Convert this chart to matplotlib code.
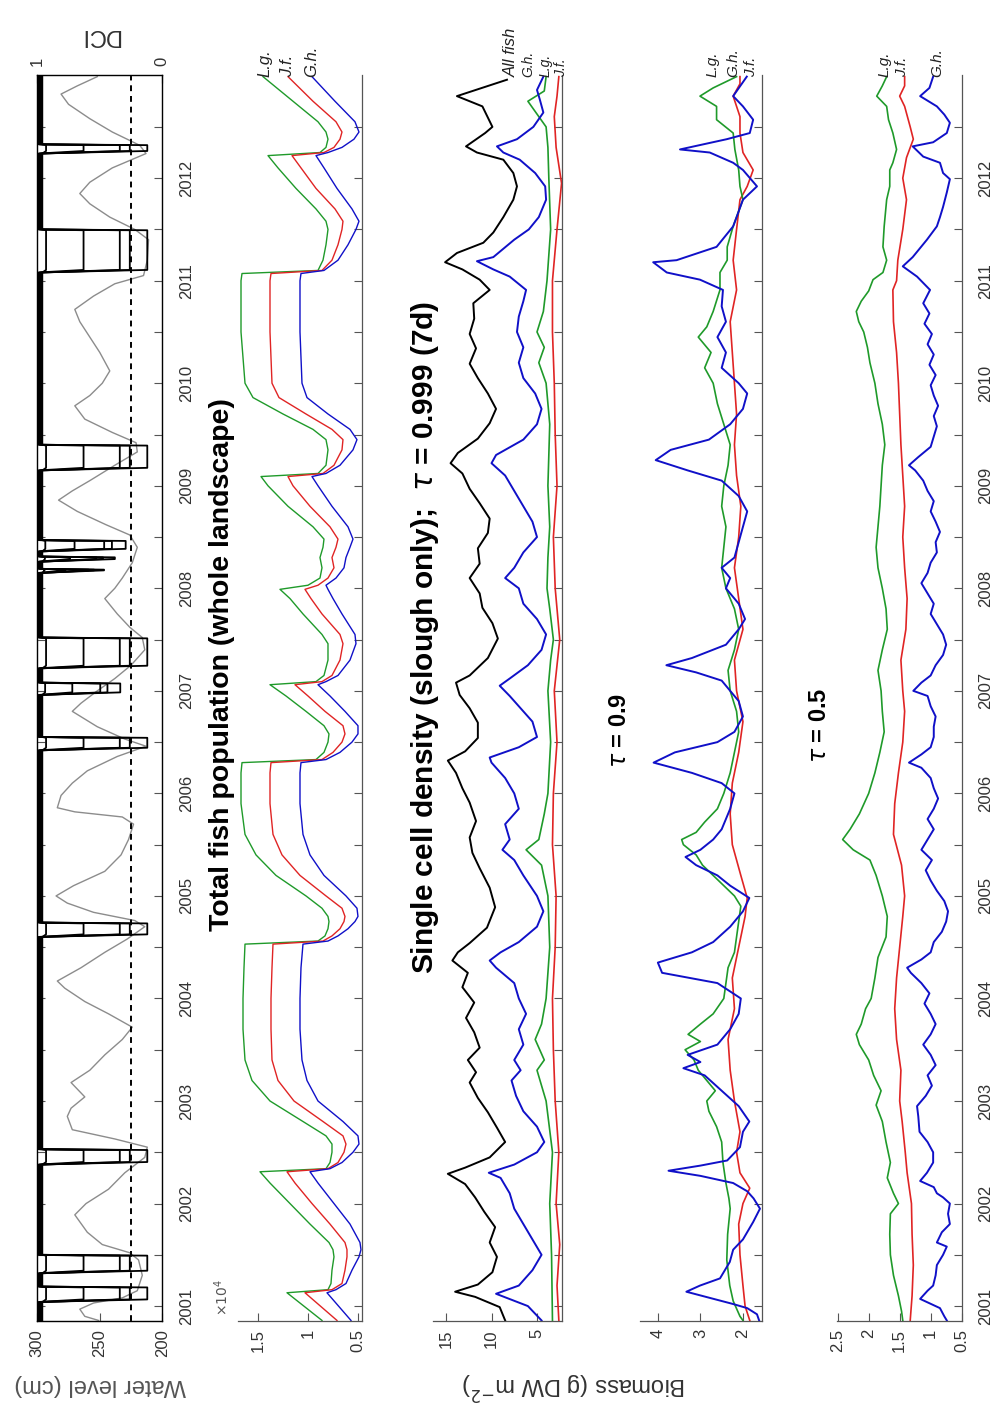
import numpy as np
import matplotlib
matplotlib.use("Agg")
import matplotlib.pyplot as plt

plt.rcParams['font.family'] = ['Liberation Sans', 'DejaVu Sans']
plt.rcParams['mathtext.fontset'] = 'dejavusans'

# ---------------- water level (cm), gauge series
wl = [(2000.86, 251), (2000.90, 262), (2000.97, 266), (2001.03, 255), (2001.08, 232),
      (2001.15, 220), (2001.30, 216), (2001.45, 219), (2001.52, 226), (2001.60, 248),
      (2001.72, 260), (2001.89, 270), (2002.00, 261), (2002.14, 243), (2002.30, 230),
      (2002.45, 214), (2002.55, 212), (2002.63, 238), (2002.72, 272), (2002.85, 276),
      (2002.93, 273), (2003.04, 262), (2003.18, 273), (2003.30, 258), (2003.45, 246),
      (2003.60, 232), (2003.72, 224), (2003.85, 243), (2003.97, 262), (2004.10, 278),
      (2004.17, 284), (2004.30, 265), (2004.45, 246), (2004.58, 228), (2004.70, 214),
      (2004.76, 222), (2004.84, 255), (2004.93, 276), (2005.00, 285), (2005.10, 271),
      (2005.24, 246), (2005.40, 233), (2005.55, 227), (2005.70, 223), (2005.77, 232),
      (2005.82, 270), (2005.86, 284), (2005.98, 281), (2006.10, 272), (2006.22, 260),
      (2006.36, 236), (2006.46, 213), (2006.53, 230), (2006.65, 252), (2006.80, 272),
      (2006.88, 265), (2007.00, 252), (2007.12, 238), (2007.25, 225), (2007.40, 214),
      (2007.52, 216), (2007.62, 226), (2007.75, 236), (2007.90, 246), (2008.00, 238),
      (2008.10, 232), (2008.25, 224), (2008.40, 220), (2008.52, 226), (2008.62, 245),
      (2008.75, 268), (2008.86, 283), (2008.95, 272), (2009.05, 258), (2009.20, 238),
      (2009.33, 220), (2009.42, 221), (2009.52, 240), (2009.65, 262), (2009.78, 270),
      (2009.88, 258), (2010.00, 248), (2010.12, 242), (2010.30, 250), (2010.45, 258),
      (2010.60, 266), (2010.72, 270), (2010.85, 255), (2010.97, 238), (2011.05, 215),
      (2011.20, 212), (2011.40, 211), (2011.50, 222), (2011.62, 242), (2011.75, 258),
      (2011.85, 266), (2011.96, 258), (2012.10, 240), (2012.24, 213), (2012.32, 218),
      (2012.45, 240), (2012.58, 258), (2012.72, 275), (2012.82, 281), (2012.90, 268),
      (2012.99, 252)]
wl_ref = 225

# DCI dry-down events: start, end, relative depth
dry_start = [2001.04, 2001.32, 2002.38, 2004.60, 2006.42, 2006.96, 2007.22, 2008.15,
             2008.26, 2008.36, 2009.15, 2011.08, 2012.24]
dry_end = [2001.19, 2001.50, 2002.53, 2004.74, 2006.55, 2007.08, 2007.52, 2008.19,
           2008.31, 2008.47, 2009.40, 2011.50, 2012.33]
dry_depth = [1.0, 1.0, 1.0, 1.0, 1.0, 0.75, 1.0, 0.6, 0.7, 0.8, 1.0, 1.0, 1.0]
dci_top = [0.985, 0.975, 0.965, 0.99, 0.96]
dci_floor = [0.12, 0.26, 0.34, 0.63, 0.93]

# ---------------- total fish population (x 1e4)
pop_t = [2000.86, 2001.13, 2001.16, 2001.22, 2001.35, 2001.48, 2001.55, 2001.62, 2001.80, 2002.00,
         2002.20, 2002.31, 2002.34, 2002.40, 2002.50, 2002.58, 2002.66, 2002.80, 2003.00, 2003.20,
         2003.40, 2003.70, 2004.00, 2004.30, 2004.53, 2004.56, 2004.61, 2004.68, 2004.75, 2004.80,
         2004.88, 2005.00, 2005.20, 2005.40, 2005.60, 2005.90, 2006.20, 2006.30, 2006.33, 2006.40,
         2006.50, 2006.58, 2006.66, 2006.80, 2006.95, 2007.06, 2007.09, 2007.15, 2007.30, 2007.46,
         2007.55, 2007.75, 2007.90, 2007.99, 2008.03, 2008.10, 2008.20, 2008.30, 2008.40, 2008.48,
         2008.60, 2008.80, 2009.00, 2009.09, 2009.12, 2009.20, 2009.35, 2009.45, 2009.55, 2009.70,
         2009.86, 2010.00, 2010.50, 2011.00, 2011.07, 2011.10, 2011.20, 2011.35, 2011.50, 2011.58,
         2011.70, 2011.90, 2012.10, 2012.22, 2012.25, 2012.30, 2012.38, 2012.45, 2012.55, 2012.75,
         2012.99]
pop_lg = [0.86, 1.21, 0.80, 0.77, 0.76, 0.74, 0.75, 0.79, 0.98, 1.18,
          1.38, 1.48, 0.82, 0.78, 0.76, 0.76, 0.82, 1.05, 1.38, 1.56,
          1.63, 1.65, 1.65, 1.64, 1.63, 0.90, 0.83, 0.80, 0.79, 0.80,
          0.86, 1.02, 1.32, 1.52, 1.63, 1.67, 1.67, 1.66, 0.92, 0.84,
          0.80, 0.79, 0.84, 1.02, 1.22, 1.38, 0.92, 0.84, 0.80, 0.80,
          0.86, 1.05, 1.18, 1.28, 1.00, 0.88, 0.86, 0.88, 0.85, 0.84,
          0.95, 1.20, 1.40, 1.47, 0.90, 0.82, 0.80, 0.82, 0.95, 1.25,
          1.55, 1.63, 1.67, 1.67, 1.66, 0.90, 0.85, 0.82, 0.80, 0.82,
          0.92, 1.12, 1.30, 1.40, 0.88, 0.82, 0.80, 0.82, 0.90, 1.15,
          1.45]
pop_jf = [0.71, 1.03, 0.76, 0.66, 0.63, 0.61, 0.61, 0.63, 0.78, 0.96,
          1.13, 1.21, 0.80, 0.70, 0.64, 0.62, 0.65, 0.85, 1.14, 1.30,
          1.36, 1.37, 1.37, 1.36, 1.35, 0.85, 0.76, 0.68, 0.64, 0.63,
          0.66, 0.82, 1.08, 1.26, 1.35, 1.38, 1.38, 1.37, 0.86, 0.75,
          0.66, 0.63, 0.65, 0.83, 1.00, 1.13, 0.86, 0.76, 0.68, 0.65,
          0.68, 0.86, 0.97, 1.03, 0.90, 0.80, 0.74, 0.76, 0.72, 0.70,
          0.78, 0.98, 1.15, 1.20, 0.85, 0.74, 0.66, 0.65, 0.76, 1.02,
          1.29, 1.36, 1.38, 1.38, 1.37, 0.86, 0.76, 0.70, 0.66, 0.65,
          0.73, 0.92, 1.07, 1.16, 0.84, 0.74, 0.68, 0.66, 0.72, 0.95,
          1.20]
pop_gh = [0.57, 0.81, 0.72, 0.62, 0.56, 0.49, 0.47, 0.48, 0.58, 0.74,
          0.90, 0.98, 0.78, 0.66, 0.55, 0.49, 0.50, 0.65, 0.90, 1.01,
          1.06, 1.08, 1.08, 1.07, 1.05, 0.80, 0.70, 0.60, 0.53, 0.50,
          0.51, 0.62, 0.84, 0.98, 1.05, 1.08, 1.08, 1.07, 0.82, 0.68,
          0.56, 0.50, 0.50, 0.63, 0.78, 0.90, 0.82, 0.70, 0.58, 0.52,
          0.53, 0.66, 0.75, 0.80, 0.82, 0.72, 0.64, 0.62, 0.58, 0.55,
          0.60, 0.76, 0.90, 0.96, 0.82, 0.68, 0.55, 0.51, 0.58, 0.80,
          1.01, 1.06, 1.08, 1.08, 1.07, 0.84, 0.70, 0.60, 0.52, 0.49,
          0.56, 0.71, 0.84, 0.92, 0.80, 0.66, 0.54, 0.49, 0.53, 0.73,
          0.96]

# ---------------- single cell density, slough, tau = 0.999 (7d)
sc_all = [(2000.86, 8.5), (2000.99, 9.1), (2001.09, 11.8), (2001.14, 14.0), (2001.21, 11.5),
          (2001.33, 9.9), (2001.48, 9.4), (2001.62, 10.2), (2001.77, 9.6), (2001.92, 10.8),
          (2002.06, 11.8), (2002.19, 12.9), (2002.29, 14.8), (2002.35, 12.9), (2002.45, 10.2),
          (2002.60, 8.5), (2002.74, 9.4), (2002.89, 10.4), (2003.03, 11.5), (2003.18, 12.4),
          (2003.28, 11.7), (2003.40, 12.6), (2003.52, 11.3), (2003.67, 11.9), (2003.81, 12.8),
          (2003.96, 11.9), (2004.11, 13.2), (2004.25, 12.6), (2004.37, 14.3), (2004.45, 13.7),
          (2004.54, 12.4), (2004.69, 10.5), (2004.89, 9.6), (2005.08, 10.2), (2005.27, 11.3),
          (2005.42, 12.1), (2005.57, 12.4), (2005.73, 11.7), (2005.91, 12.4), (2006.05, 13.2),
          (2006.20, 13.9), (2006.32, 14.8), (2006.41, 12.9), (2006.54, 11.5), (2006.69, 11.5),
          (2006.83, 12.4), (2006.96, 13.5), (2007.08, 13.9), (2007.15, 12.4), (2007.32, 10.4),
          (2007.51, 9.3), (2007.66, 9.9), (2007.81, 11.0), (2007.95, 11.3), (2008.10, 12.4),
          (2008.24, 11.3), (2008.39, 11.5), (2008.54, 10.4), (2008.68, 10.2), (2008.83, 11.3),
          (2008.97, 12.4), (2009.12, 13.2), (2009.22, 14.5), (2009.32, 13.7), (2009.46, 11.5),
          (2009.61, 10.2), (2009.75, 9.5), (2009.90, 10.4), (2010.05, 11.5), (2010.19, 12.4),
          (2010.34, 11.7), (2010.48, 12.4), (2010.63, 11.9), (2010.78, 12.0), (2010.91, 10.2),
          (2011.01, 11.3), (2011.11, 13.2), (2011.18, 15.1), (2011.27, 13.8), (2011.37, 10.9),
          (2011.47, 9.8), (2011.62, 8.7), (2011.79, 7.6), (2011.92, 7.2), (2012.05, 7.6),
          (2012.18, 8.7), (2012.25, 11.6), (2012.31, 12.8), (2012.44, 10.7), (2012.50, 9.9),
          (2012.70, 11.0), (2012.80, 13.8), (2012.96, 8.3)]
sc_gh = [(2000.86, 4.5), (2001.00, 6.0), (2001.12, 9.5), (2001.20, 7.0), (2001.35, 5.5),
         (2001.50, 4.5), (2001.65, 5.5), (2001.80, 6.5), (2001.95, 7.5), (2002.10, 8.0),
         (2002.25, 9.0), (2002.30, 10.3), (2002.38, 7.5), (2002.50, 5.0), (2002.60, 4.2),
         (2002.75, 5.0), (2002.90, 6.5), (2003.05, 7.3), (2003.20, 7.8), (2003.30, 6.8),
         (2003.40, 7.5), (2003.55, 6.5), (2003.70, 7.0), (2003.85, 6.2), (2004.00, 7.0),
         (2004.15, 7.5), (2004.30, 9.5), (2004.37, 10.2), (2004.45, 9.0), (2004.55, 7.0),
         (2004.70, 5.0), (2004.85, 4.3), (2005.00, 5.0), (2005.20, 6.5), (2005.35, 7.5),
         (2005.45, 8.8), (2005.55, 8.0), (2005.70, 8.5), (2005.85, 7.0), (2006.00, 7.5),
         (2006.15, 8.5), (2006.30, 10.0), (2006.35, 10.2), (2006.45, 7.0), (2006.55, 5.0),
         (2006.70, 5.5), (2006.85, 7.0), (2006.95, 8.0), (2007.05, 9.1), (2007.12, 8.0),
         (2007.25, 6.0), (2007.40, 4.5), (2007.55, 4.0), (2007.70, 5.0), (2007.85, 6.5),
         (2008.00, 7.0), (2008.10, 8.5), (2008.20, 7.5), (2008.35, 6.5), (2008.50, 5.0),
         (2008.65, 5.5), (2008.80, 6.5), (2008.95, 7.5), (2009.10, 8.5), (2009.22, 10.0),
         (2009.30, 9.5), (2009.45, 6.5), (2009.60, 5.0), (2009.75, 4.5), (2009.90, 5.2),
         (2010.05, 6.5), (2010.20, 7.0), (2010.35, 6.5), (2010.50, 7.2), (2010.65, 7.0),
         (2010.80, 6.5), (2010.91, 6.2), (2011.04, 8.0), (2011.11, 9.8), (2011.19, 11.6),
         (2011.23, 9.8), (2011.40, 7.5), (2011.50, 5.9), (2011.62, 4.8), (2011.79, 4.0),
         (2011.92, 4.1), (2012.05, 5.2), (2012.18, 6.9), (2012.25, 8.7), (2012.31, 9.4),
         (2012.38, 7.2), (2012.50, 5.4), (2012.64, 4.3), (2012.77, 4.7), (2012.86, 5.0),
         (2012.99, 4.3)]
sc_lg = [(2000.86, 3.3), (2001.50, 3.4), (2002.00, 3.6), (2002.50, 3.3), (2003.00, 4.0),
         (2003.30, 5.0), (2003.40, 4.2), (2003.60, 5.2), (2003.75, 4.5), (2004.00, 4.0),
         (2004.50, 3.6), (2005.00, 3.8), (2005.30, 4.5), (2005.45, 6.2), (2005.55, 4.8),
         (2005.80, 4.2), (2006.00, 3.8), (2006.50, 3.5), (2007.00, 3.8), (2007.30, 3.5),
         (2007.50, 3.2), (2007.80, 3.6), (2008.00, 3.9), (2008.30, 3.8), (2008.60, 3.6),
         (2009.00, 3.8), (2009.30, 3.7), (2009.60, 3.6), (2010.00, 4.0), (2010.20, 4.8),
         (2010.35, 4.2), (2010.50, 5.0), (2010.70, 4.3), (2011.00, 3.9), (2011.50, 3.5),
         (2012.00, 3.7), (2012.30, 3.8), (2012.50, 4.0), (2012.75, 6.0), (2012.85, 4.2),
         (2012.99, 4.0)]
sc_jf = [(2000.86, 2.6), (2001.20, 2.8), (2001.60, 2.5), (2002.00, 2.9), (2002.50, 2.6),
         (2003.00, 3.0), (2003.50, 3.2), (2004.00, 3.3), (2004.50, 3.0), (2005.00, 2.9),
         (2005.50, 3.3), (2006.00, 3.2), (2006.50, 2.8), (2007.00, 3.1), (2007.50, 2.5),
         (2008.00, 3.0), (2008.50, 3.2), (2009.00, 2.8), (2009.50, 3.0), (2010.00, 3.1),
         (2010.50, 3.3), (2011.00, 3.3), (2011.50, 2.8), (2011.95, 2.3), (2012.30, 2.9),
         (2012.60, 3.1), (2012.80, 2.8), (2012.99, 2.6)]

# ---------------- tau = 0.9
t9_gh = [(2000.86, 1.62), (2000.92, 1.67), (2000.98, 1.90), (2001.02, 2.23), (2001.08, 2.78),
         (2001.14, 3.33), (2001.20, 3.01), (2001.27, 2.54), (2001.43, 2.31), (2001.55, 2.23),
         (2001.65, 2.00), (2001.82, 1.76), (2001.95, 1.60), (2002.05, 1.75), (2002.12, 1.90),
         (2002.20, 2.23), (2002.27, 3.00), (2002.32, 3.75), (2002.37, 3.00), (2002.42, 2.37),
         (2002.55, 2.07), (2002.70, 2.00), (2002.80, 1.85), (2002.95, 2.10), (2003.10, 2.50),
         (2003.25, 2.90), (2003.32, 3.40), (2003.38, 3.00), (2003.45, 3.30), (2003.55, 2.60),
         (2003.70, 2.30), (2003.85, 2.10), (2004.00, 2.05), (2004.15, 2.60), (2004.25, 3.90),
         (2004.35, 4.00), (2004.45, 3.20), (2004.55, 2.70), (2004.70, 2.30), (2004.85, 2.00),
         (2004.98, 1.85), (2005.10, 2.30), (2005.20, 2.60), (2005.30, 3.10), (2005.38, 3.35),
         (2005.45, 3.00), (2005.55, 2.70), (2005.65, 2.50), (2005.75, 2.40), (2005.85, 2.30),
         (2006.00, 2.20), (2006.10, 2.50), (2006.20, 3.20), (2006.30, 4.10), (2006.40, 3.60),
         (2006.50, 2.60), (2006.60, 2.20), (2006.75, 2.00), (2006.90, 2.10), (2007.00, 2.30),
         (2007.10, 2.50), (2007.18, 3.10), (2007.25, 3.80), (2007.32, 3.20), (2007.45, 2.40),
         (2007.60, 2.10), (2007.70, 1.95), (2007.85, 2.10), (2008.00, 2.40), (2008.10, 2.30),
         (2008.20, 2.50), (2008.30, 2.20), (2008.45, 2.10), (2008.60, 2.00), (2008.75, 1.90),
         (2008.90, 2.10), (2009.05, 2.50), (2009.15, 3.30), (2009.25, 4.05), (2009.35, 3.70),
         (2009.45, 2.80), (2009.60, 2.30), (2009.75, 2.00), (2009.90, 1.90), (2010.00, 2.10),
         (2010.15, 2.50), (2010.30, 2.40), (2010.45, 2.60), (2010.60, 2.40), (2010.75, 2.50),
         (2010.91, 2.47), (2011.01, 3.01), (2011.08, 3.79), (2011.18, 4.11), (2011.20, 3.56),
         (2011.33, 2.62), (2011.53, 2.23), (2011.62, 2.15), (2011.79, 2.00), (2011.92, 1.67),
         (2012.08, 2.00), (2012.15, 2.23), (2012.25, 2.78), (2012.28, 3.48), (2012.38, 2.38),
         (2012.44, 1.84), (2012.57, 1.76), (2012.70, 2.00), (2012.80, 2.23), (2012.99, 1.91)]
t9_lg = [(2000.86, 2.00), (2000.90, 2.07), (2001.05, 2.23), (2001.20, 2.31), (2001.45, 2.38),
         (2001.70, 2.36), (2001.95, 2.30), (2002.05, 2.33), (2002.20, 2.40), (2002.40, 2.47),
         (2002.60, 2.50), (2002.75, 2.62), (2002.90, 2.80), (2003.00, 2.85), (2003.10, 2.65),
         (2003.20, 2.85), (2003.30, 3.05), (2003.40, 3.15), (2003.50, 3.36), (2003.58, 3.00),
         (2003.65, 3.29), (2003.75, 3.00), (2003.85, 2.70), (2004.00, 2.45), (2004.15, 2.40),
         (2004.30, 2.35), (2004.45, 2.20), (2004.60, 2.15), (2004.75, 2.10), (2004.90, 2.05),
         (2005.00, 2.20), (2005.10, 2.45), (2005.20, 2.70), (2005.30, 2.95), (2005.40, 3.10),
         (2005.50, 3.40), (2005.55, 3.44), (2005.62, 3.10), (2005.72, 2.90), (2005.85, 2.60),
         (2006.00, 2.45), (2006.20, 2.30), (2006.40, 2.20), (2006.60, 2.10), (2006.80, 2.15),
         (2007.00, 2.30), (2007.20, 2.35), (2007.40, 2.20), (2007.60, 2.10), (2007.80, 2.20),
         (2008.00, 2.40), (2008.20, 2.50), (2008.40, 2.45), (2008.60, 2.40), (2008.80, 2.50),
         (2009.00, 2.45), (2009.20, 2.35), (2009.40, 2.30), (2009.60, 2.45), (2009.80, 2.60),
         (2010.00, 2.70), (2010.15, 2.90), (2010.30, 2.75), (2010.45, 3.05), (2010.55, 2.85),
         (2010.70, 2.70), (2010.91, 2.54), (2011.08, 2.54), (2011.20, 2.37), (2011.33, 2.37),
         (2011.53, 2.23), (2011.79, 2.00), (2011.92, 2.07), (2012.08, 2.10), (2012.28, 2.19),
         (2012.44, 2.23), (2012.57, 2.62), (2012.70, 2.62), (2012.80, 3.01), (2012.88, 2.70),
         (2012.99, 2.15)]
t9_jf = [(2000.86, 1.84), (2001.00, 1.95), (2001.20, 2.00), (2001.50, 2.07), (2001.80, 2.10),
         (2002.00, 2.00), (2002.15, 1.84), (2002.30, 2.07), (2002.50, 2.15), (2002.70, 2.07),
         (2003.00, 2.20), (2003.30, 2.30), (2003.60, 2.35), (2003.90, 2.20), (2004.20, 2.25),
         (2004.50, 2.10), (2004.80, 1.95), (2004.98, 1.90), (2005.20, 2.05), (2005.50, 2.25),
         (2005.80, 2.30), (2006.10, 2.25), (2006.40, 2.10), (2006.70, 2.00), (2007.00, 2.15),
         (2007.30, 2.20), (2007.60, 2.00), (2007.90, 2.10), (2008.20, 2.20), (2008.50, 2.10),
         (2008.80, 2.05), (2009.10, 2.15), (2009.40, 2.20), (2009.70, 2.15), (2010.00, 2.20),
         (2010.30, 2.25), (2010.60, 2.30), (2010.91, 2.15), (2011.20, 2.23), (2011.50, 2.15),
         (2011.79, 2.07), (2011.92, 1.90), (2012.08, 1.76), (2012.25, 2.00), (2012.44, 2.07),
         (2012.60, 2.07), (2012.80, 2.23), (2012.92, 2.07), (2012.99, 2.07)]

# ---------------- tau = 0.5
t5_gh = [(2000.86, 0.74), (2000.90, 0.78), (2000.98, 0.85), (2001.07, 1.17), (2001.15, 1.05),
         (2001.20, 0.96), (2001.30, 0.92), (2001.40, 0.90), (2001.50, 0.80), (2001.58, 0.74),
         (2001.62, 0.90), (2001.72, 0.82), (2001.80, 0.69), (2001.90, 0.72), (2002.00, 0.69),
         (2002.06, 0.80), (2002.10, 0.90), (2002.16, 0.95), (2002.22, 1.17), (2002.30, 1.06),
         (2002.40, 0.96), (2002.50, 0.96), (2002.60, 1.05), (2002.70, 1.18), (2002.85, 1.20),
         (2002.95, 1.22), (2003.05, 1.08), (2003.15, 0.98), (2003.25, 1.05), (2003.35, 0.92),
         (2003.45, 1.00), (2003.55, 1.12), (2003.65, 1.00), (2003.75, 0.92), (2003.85, 1.00),
         (2003.95, 1.10), (2004.05, 1.02), (2004.15, 1.15), (2004.25, 1.32), (2004.30, 1.38),
         (2004.38, 1.15), (2004.45, 1.00), (2004.55, 0.95), (2004.65, 0.82), (2004.75, 0.75),
         (2004.85, 0.72), (2004.95, 0.78), (2005.05, 0.90), (2005.15, 1.00), (2005.25, 1.08),
         (2005.35, 0.98), (2005.45, 1.15), (2005.55, 1.05), (2005.65, 0.95), (2005.75, 1.05),
         (2005.85, 0.95), (2005.95, 0.88), (2006.05, 0.95), (2006.15, 1.00), (2006.25, 1.15),
         (2006.30, 1.35), (2006.38, 1.15), (2006.45, 1.00), (2006.55, 0.95), (2006.65, 0.95),
         (2006.75, 0.92), (2006.85, 1.00), (2006.95, 1.05), (2007.00, 1.28), (2007.08, 1.15),
         (2007.15, 1.00), (2007.25, 0.92), (2007.35, 0.80), (2007.45, 0.75), (2007.55, 0.80),
         (2007.65, 0.90), (2007.75, 1.00), (2007.85, 0.95), (2007.95, 1.05), (2008.05, 1.15),
         (2008.15, 1.05), (2008.25, 1.00), (2008.35, 0.90), (2008.45, 0.92), (2008.55, 0.85),
         (2008.65, 0.92), (2008.75, 1.00), (2008.85, 0.95), (2008.95, 1.05), (2009.05, 1.12),
         (2009.15, 1.25), (2009.20, 1.35), (2009.28, 1.20), (2009.38, 1.00), (2009.48, 0.95),
         (2009.58, 0.90), (2009.68, 0.95), (2009.78, 0.88), (2009.88, 0.95), (2009.98, 1.00),
         (2010.08, 0.92), (2010.18, 1.02), (2010.28, 0.95), (2010.38, 1.05), (2010.48, 0.98),
         (2010.58, 1.10), (2010.68, 1.02), (2010.78, 1.12), (2010.91, 1.01), (2011.04, 1.22),
         (2011.14, 1.45), (2011.23, 1.29), (2011.40, 1.06), (2011.53, 0.90), (2011.62, 0.85),
         (2011.72, 0.80), (2011.86, 0.74), (2011.99, 0.69), (2012.05, 0.80), (2012.15, 0.85),
         (2012.21, 1.12), (2012.31, 1.29), (2012.35, 0.96), (2012.44, 0.74), (2012.54, 0.69),
         (2012.62, 0.78), (2012.70, 0.90), (2012.80, 1.17), (2012.88, 1.02), (2012.99, 0.96)]
t5_lg = [(2000.86, 1.45), (2000.95, 1.47), (2001.10, 1.52), (2001.30, 1.60), (2001.50, 1.65),
         (2001.70, 1.66), (2001.90, 1.65), (2002.00, 1.52), (2002.10, 1.60), (2002.25, 1.70),
         (2002.40, 1.65), (2002.60, 1.72), (2002.80, 1.78), (2002.96, 1.88), (2003.10, 1.80),
         (2003.25, 1.92), (2003.40, 2.00), (2003.55, 2.15), (2003.65, 2.20), (2003.75, 2.12),
         (2003.90, 2.05), (2004.00, 1.96), (2004.20, 1.90), (2004.40, 1.85), (2004.60, 1.72),
         (2004.80, 1.70), (2005.00, 1.78), (2005.20, 1.88), (2005.35, 1.98), (2005.45, 2.25),
         (2005.55, 2.42), (2005.65, 2.30), (2005.80, 2.15), (2006.00, 2.00), (2006.20, 1.90),
         (2006.40, 1.82), (2006.60, 1.75), (2006.80, 1.78), (2007.00, 1.80), (2007.20, 1.85),
         (2007.40, 1.78), (2007.60, 1.70), (2007.80, 1.72), (2008.00, 1.78), (2008.20, 1.85),
         (2008.40, 1.88), (2008.60, 1.85), (2008.80, 1.82), (2009.00, 1.80), (2009.20, 1.78),
         (2009.40, 1.74), (2009.60, 1.78), (2009.80, 1.85), (2010.00, 1.90), (2010.20, 1.98),
         (2010.35, 2.02), (2010.50, 2.08), (2010.60, 2.16), (2010.70, 2.20), (2010.80, 2.12),
         (2010.90, 2.00), (2011.01, 1.93), (2011.08, 1.77), (2011.20, 1.71), (2011.33, 1.77),
         (2011.53, 1.75), (2011.79, 1.71), (2011.92, 1.66), (2012.08, 1.66), (2012.15, 1.61),
         (2012.28, 1.55), (2012.44, 1.61), (2012.57, 1.68), (2012.70, 1.71), (2012.80, 1.87),
         (2012.90, 1.78), (2012.99, 1.71)]
t5_jf = [(2000.86, 1.33), (2001.10, 1.30), (2001.40, 1.28), (2001.70, 1.30), (2002.00, 1.31),
         (2002.30, 1.38), (2002.50, 1.41), (2002.80, 1.46), (2003.00, 1.50), (2003.30, 1.48),
         (2003.60, 1.55), (2003.90, 1.58), (2004.20, 1.55), (2004.50, 1.50), (2004.80, 1.45),
         (2005.00, 1.42), (2005.30, 1.47), (2005.60, 1.60), (2005.90, 1.58), (2006.20, 1.52),
         (2006.50, 1.45), (2006.80, 1.42), (2007.00, 1.45), (2007.30, 1.48), (2007.60, 1.40),
         (2007.90, 1.38), (2008.20, 1.42), (2008.50, 1.45), (2008.80, 1.42), (2009.10, 1.45),
         (2009.40, 1.48), (2009.70, 1.50), (2010.00, 1.52), (2010.30, 1.55), (2010.60, 1.60),
         (2010.91, 1.61), (2011.00, 1.55), (2011.20, 1.53), (2011.50, 1.45), (2011.79, 1.39),
         (2012.00, 1.45), (2012.20, 1.39), (2012.38, 1.28), (2012.50, 1.33), (2012.70, 1.42),
         (2012.80, 1.50), (2012.90, 1.42), (2012.99, 1.42)]

t_lo, t_hi = 2000.857, 2013.01

GREEN = '#1f9a2a'
RED = '#e02424'
BLUE = '#1010c8'
AXC = '#555555'
TXT = '#333333'


def vt(pairs):
    a = np.array(pairs, dtype=float)
    return a[:, 1], a[:, 0]


def dci_line(top, floor):
    t = [t_lo]
    v = [top]
    for ts, te, d in zip(dry_start, dry_end, dry_depth):
        lo = top - d * (top - floor)
        t += [ts, ts + 0.025, te - 0.008, te]
        v += [top, lo, lo, top]
    t.append(t_hi)
    v.append(top)
    return np.array(v), np.array(t)


def time_axis(ax, labels):
    ax.set_ylim(t_lo, t_hi)
    ticks = np.arange(2001, 2012.51, 0.5)
    ax.set_yticks(ticks)
    ax.set_yticklabels([str(int(k)) if k == int(k) else '' for k in ticks])
    ax.tick_params(axis='y', direction='in', length=6, width=0.8, color=AXC,
                   left=False, right=True, labelleft=False, labelright=labels,
                   labelrotation=90, pad=12, labelsize=12, labelcolor=TXT)
    for lab in ax.get_yticklabels():
        lab.set_va('center')


def value_axis(ax, lim, ticks, labels):
    ax.set_xlim(*lim)
    ax.set_xticks(ticks)
    ax.set_xticklabels(labels)
    ax.tick_params(axis='x', direction='in', length=6, width=0.8, color=AXC,
                   bottom=True, top=False, labelrotation=90, pad=6,
                   labelsize=12, labelcolor=TXT)


def open_box(ax):
    for s in ('left', 'top'):
        ax.spines[s].set_visible(False)
    for s in ('right', 'bottom'):
        ax.spines[s].set_color(AXC)
        ax.spines[s].set_linewidth(0.9)


def end_labels(ax, items, size=12):
    for x, s in items:
        ax.text(x, 2012.99, s, rotation=90, ha='center', va='bottom', fontsize=size,
                style='italic', color='#222222', clip_on=False)


fig = plt.figure(figsize=(9.95, 14.10), dpi=100)
fig.patch.set_facecolor('white')
bot, h = 0.0633, 0.8838

# panel 1: water level + DCI
ax1 = fig.add_axes([0.0375, bot, 0.1256, h])
v, t = vt(wl)
ax1.plot(v, t, color='#8c8c8c', lw=1.0)
ax1.axvline(wl_ref, color='k', lw=1.4, ls=(0, (3, 2.5)))
time_axis(ax1, True)
ax1.tick_params(axis='y', left=True)
value_axis(ax1, (300, 200), [200, 250, 300], ['200', '250', '300'])
for s in ax1.spines.values():
    s.set_color('#333333')
    s.set_linewidth(1.0)
ax1b = ax1.twiny()
for top, floor in zip(dci_top, dci_floor):
    dv, dt = dci_line(top, floor)
    ax1b.plot(dv, dt, color='k', lw=1.3)
ax1b.set_xlim(1, 0)
ax1b.set_xticks([0, 1])
ax1b.set_xticklabels(['0', '1'])
ax1b.tick_params(axis='x', direction='in', length=6, width=0.8, top=True,
                 labelrotation=90, pad=6, labelsize=12, labelcolor=TXT)
ax1b.set_ylim(t_lo, t_hi)

# panel 2: total fish population
ax2 = fig.add_axes([0.2392, bot, 0.1251, h])
ax2.plot(pop_lg, pop_t, color=GREEN, lw=1.0)
ax2.plot(pop_jf, pop_t, color=RED, lw=1.0)
ax2.plot(pop_gh, pop_t, color=BLUE, lw=1.0)
open_box(ax2)
time_axis(ax2, False)
value_axis(ax2, (1.70, 0.455), [0.5, 1, 1.5], ['0.5', '1', '1.5'])
end_labels(ax2, [(1.43, 'L.g.'), (1.20, 'J.f.'), (0.96, 'G.h.')])

# panel 3: single cell density, tau = 0.999
ax3 = fig.add_axes([0.4349, bot, 0.1304, h])
for series, c, w in ((sc_jf, RED, 1.2), (sc_lg, GREEN, 1.2), (sc_gh, BLUE, 1.4),
                     (sc_all, 'k', 1.4)):
    v, t = vt(series)
    ax3.plot(v, t, color=c, lw=w)
open_box(ax3)
time_axis(ax3, False)
value_axis(ax3, (16.46, 2.2), [5, 10, 15], ['5', '10', '15'])
end_labels(ax3, [(7.8, 'All fish')])
end_labels(ax3, [(5.9, 'G.h.'), (4.1, 'L.g.'), (2.35, 'J.f.')], size=10)

# panel 4: tau = 0.9
ax4 = fig.add_axes([0.6432, bot, 0.1223, h])
for series, c, w in ((t9_jf, RED, 1.2), (t9_lg, GREEN, 1.2), (t9_gh, BLUE, 1.4)):
    v, t = vt(series)
    ax4.plot(v, t, color=c, lw=w)
open_box(ax4)
time_axis(ax4, False)
value_axis(ax4, (4.42, 1.56), [2, 3, 4], ['2', '3', '4'])
end_labels(ax4, [(2.72, 'L.g.'), (2.22, 'G.h.'), (1.80, 'J.f.')], size=11)

# panel 5: tau = 0.5
ax5 = fig.add_axes([0.8409, bot, 0.1256, h])
for series, c, w in ((t5_jf, RED, 1.2), (t5_lg, GREEN, 1.2), (t5_gh, BLUE, 1.4)):
    v, t = vt(series)
    ax5.plot(v, t, color=c, lw=w)
open_box(ax5)
time_axis(ax5, True)
value_axis(ax5, (2.516, 0.5), [0.5, 1, 1.5, 2, 2.5], ['0.5', '1', '1.5', '2', '2.5'])
end_labels(ax5, [(1.74, 'L.g.'), (1.46, 'J.f.'), (0.90, 'G.h.')], size=11)

# labels and titles (figure rotated a quarter turn)
H = 1410.0
W = 995.0
fig.text(100 / W, 1 - 1385 / H, 'Water level (cm)', rotation=180, ha='center',
         va='center', fontsize=17, color='#555555')
fig.text(574 / W, 1 - 1385 / H, r'Biomass (g DW m$^{-2}$)', rotation=180,
         ha='center', va='center', fontsize=17, color='#333333')
fig.text(100 / W, 1 - 35 / H, 'DCI', rotation=180, ha='center', va='center',
         fontsize=17, color='#333333')
fig.text(222 / W, 1 - 1298 / H, r'$\times10^4$', rotation=90, ha='center',
         va='center', fontsize=10, color='#555555')
fig.text(222 / W, 1 - 665 / H, 'Total fish population (whole landscape)',
         rotation=90, ha='center', va='center', fontsize=20.5, fontweight='bold')
fig.text(425 / W, 1 - 637 / H,
         r'Single cell density (slough only);  $\tau$ = 0.999 (7d)',
         rotation=90, ha='center', va='center', fontsize=21.5, fontweight='bold')
fig.text(620 / W, 1 - 730 / H, r'$\tau$ = 0.9', rotation=90, ha='center',
         va='center', fontsize=17, fontweight='bold')
fig.text(820 / W, 1 - 725 / H, r'$\tau$ = 0.5', rotation=90, ha='center',
         va='center', fontsize=17, fontweight='bold')

fig.savefig('out.png', dpi=100, facecolor='white')
